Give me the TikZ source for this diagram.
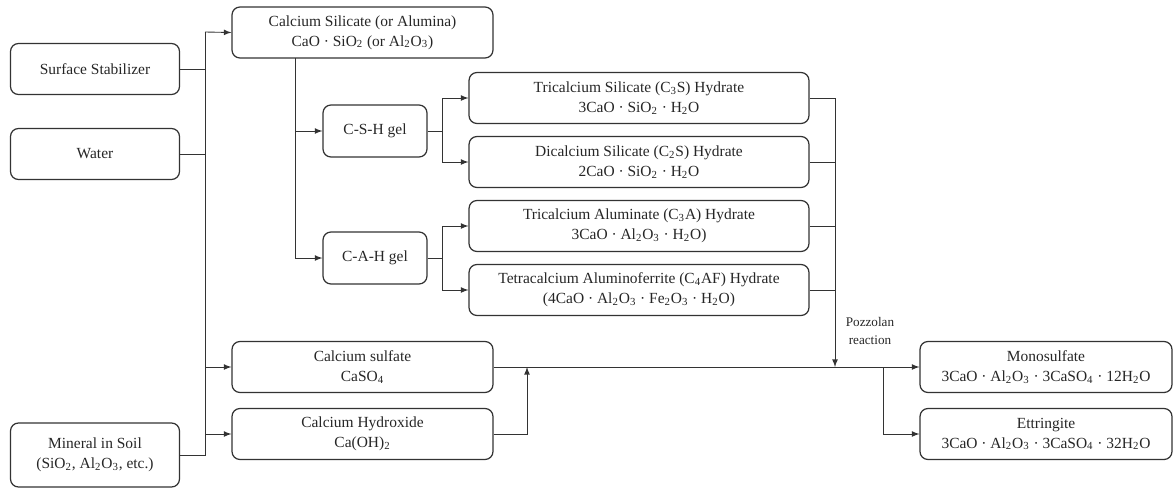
\documentclass[tikz,border=0pt]{standalone}
\usepackage{fontspec}
\setmainfont{Liberation Serif}
\usetikzlibrary{arrows,positioning}
\newcommand{\sbs}[1]{\textsubscript{#1}}

\tikzset{
  box/.style={draw=black!80, line width=0.7pt, rounded corners=4.5pt, align=center,
    inner sep=0pt, text=black!85, font=\fontsize{8.8}{11.4}\selectfont},
  inbox/.style={box, minimum width=3.38cm, minimum height=1.02cm},
  midbox/.style={box, minimum width=5.22cm, minimum height=1.02cm},
  gelbox/.style={box, minimum width=2.08cm, minimum height=1.04cm},
  hydbox/.style={box, minimum width=6.8cm, minimum height=1.02cm},
  outbox/.style={box, minimum width=5.04cm, minimum height=1.02cm},
  link/.style={draw=black!80, line width=0.5pt},
  arr/.style={link, -latex},
}

\begin{document}
\begin{tikzpicture}[x=0.02cm, y=-0.02cm]
\useasboundingbox (0,0) rectangle (1176,488);

% Inputs
\node[inbox] (stab) at (95,69) {Surface Stabilizer};
\node[inbox] (water) at (95,154) {Water};
\node[inbox, minimum height=1.28cm] (soil) at (95,455) {Mineral in Soil\\(SiO\sbs{2}, Al\sbs{2}O\sbs{3}, etc.)};

% Middle column
\node[midbox] (casil) at (362.5,32.5) {Calcium Silicate (or Alumina)\\CaO · SiO\sbs{2} (or Al\sbs{2}O\sbs{3})};
\node[gelbox] (csh) at (375,131) {C-S-H gel};
\node[gelbox] (cah) at (375,258) {C-A-H gel};
\node[midbox] (caso) at (362.5,367) {Calcium sulfate\\CaSO\sbs{4}};
\node[midbox] (caoh) at (362.5,434) {Calcium Hydroxide\\Ca(OH)\sbs{2}};

% Hydrates
\node[hydbox] (c3s) at (639,98) {Tricalcium Silicate (C\sbs{3}S) Hydrate\\3CaO · SiO\sbs{2} · H\sbs{2}O};
\node[hydbox] (c2s) at (639,162) {Dicalcium Silicate (C\sbs{2}S) Hydrate\\2CaO · SiO\sbs{2} · H\sbs{2}O};
\node[hydbox] (c3a) at (639,226) {Tricalcium Aluminate (C\sbs{3}A) Hydrate\\3CaO · Al\sbs{2}O\sbs{3} · H\sbs{2}O)};
\node[hydbox] (c4af) at (639,290) {Tetracalcium Aluminoferrite (C\sbs{4}AF) Hydrate\\(4CaO · Al\sbs{2}O\sbs{3} · Fe\sbs{2}O\sbs{3} · H\sbs{2}O)};

% Products
\node[outbox] (mono) at (1046,367) {Monosulfate\\3CaO · Al\sbs{2}O\sbs{3} · 3CaSO\sbs{4} · 12H\sbs{2}O};
\node[outbox] (ettr) at (1046,434) {Ettringite\\3CaO · Al\sbs{2}O\sbs{3} · 3CaSO\sbs{4} · 32H\sbs{2}O};
\node[align=center, text=black!85, font=\fontsize{7.5}{9.7}\selectfont] (pzl) at (870,331) {Pozzolan\\reaction};

% Junction points
\coordinate (bus) at (205,32);
\coordinate (gsplit) at (295,58);
\coordinate (j1) at (442,131);
\coordinate (j2) at (442,258);
\coordinate (pz) at (835,367);
\coordinate (hy) at (527,367);
\coordinate (eb) at (883,367);

% Input bus
\draw[link] (soil.east) -| (bus);
\draw[link] (stab.east) -- (stab.east -| bus);
\draw[link] (water.east) -- (water.east -| bus);
\draw[arr] (bus) -- (casil.west);
\draw[arr] (caso.west -| bus) -- (caso.west);
\draw[arr] (caoh.west -| bus) -- (caoh.west);

% Gels
\draw[arr] (gsplit) |- (cah.west);
\draw[arr] (csh.west -| gsplit) -- (csh.west);
\draw[link] (csh.east) -- (j1);
\draw[arr] (j1) |- (c3s.west);
\draw[arr] (j1) |- (c2s.west);
\draw[link] (cah.east) -- (j2);
\draw[arr] (j2) |- (c3a.west);
\draw[arr] (j2) |- (c4af.west);

% Collect hydrates
\draw[arr] (c3s.east) -| (pz);
\draw[link] (c2s.east) -- (c2s.east -| pz);
\draw[link] (c3a.east) -- (c3a.east -| pz);
\draw[link] (c4af.east) -- (c4af.east -| pz);

% Main reaction line
\draw[arr] (caso.east) -- (mono.west);
\draw[arr] (caoh.east) -| (hy);
\draw[arr] (eb) |- (ettr.west);
\end{tikzpicture}
\end{document}
